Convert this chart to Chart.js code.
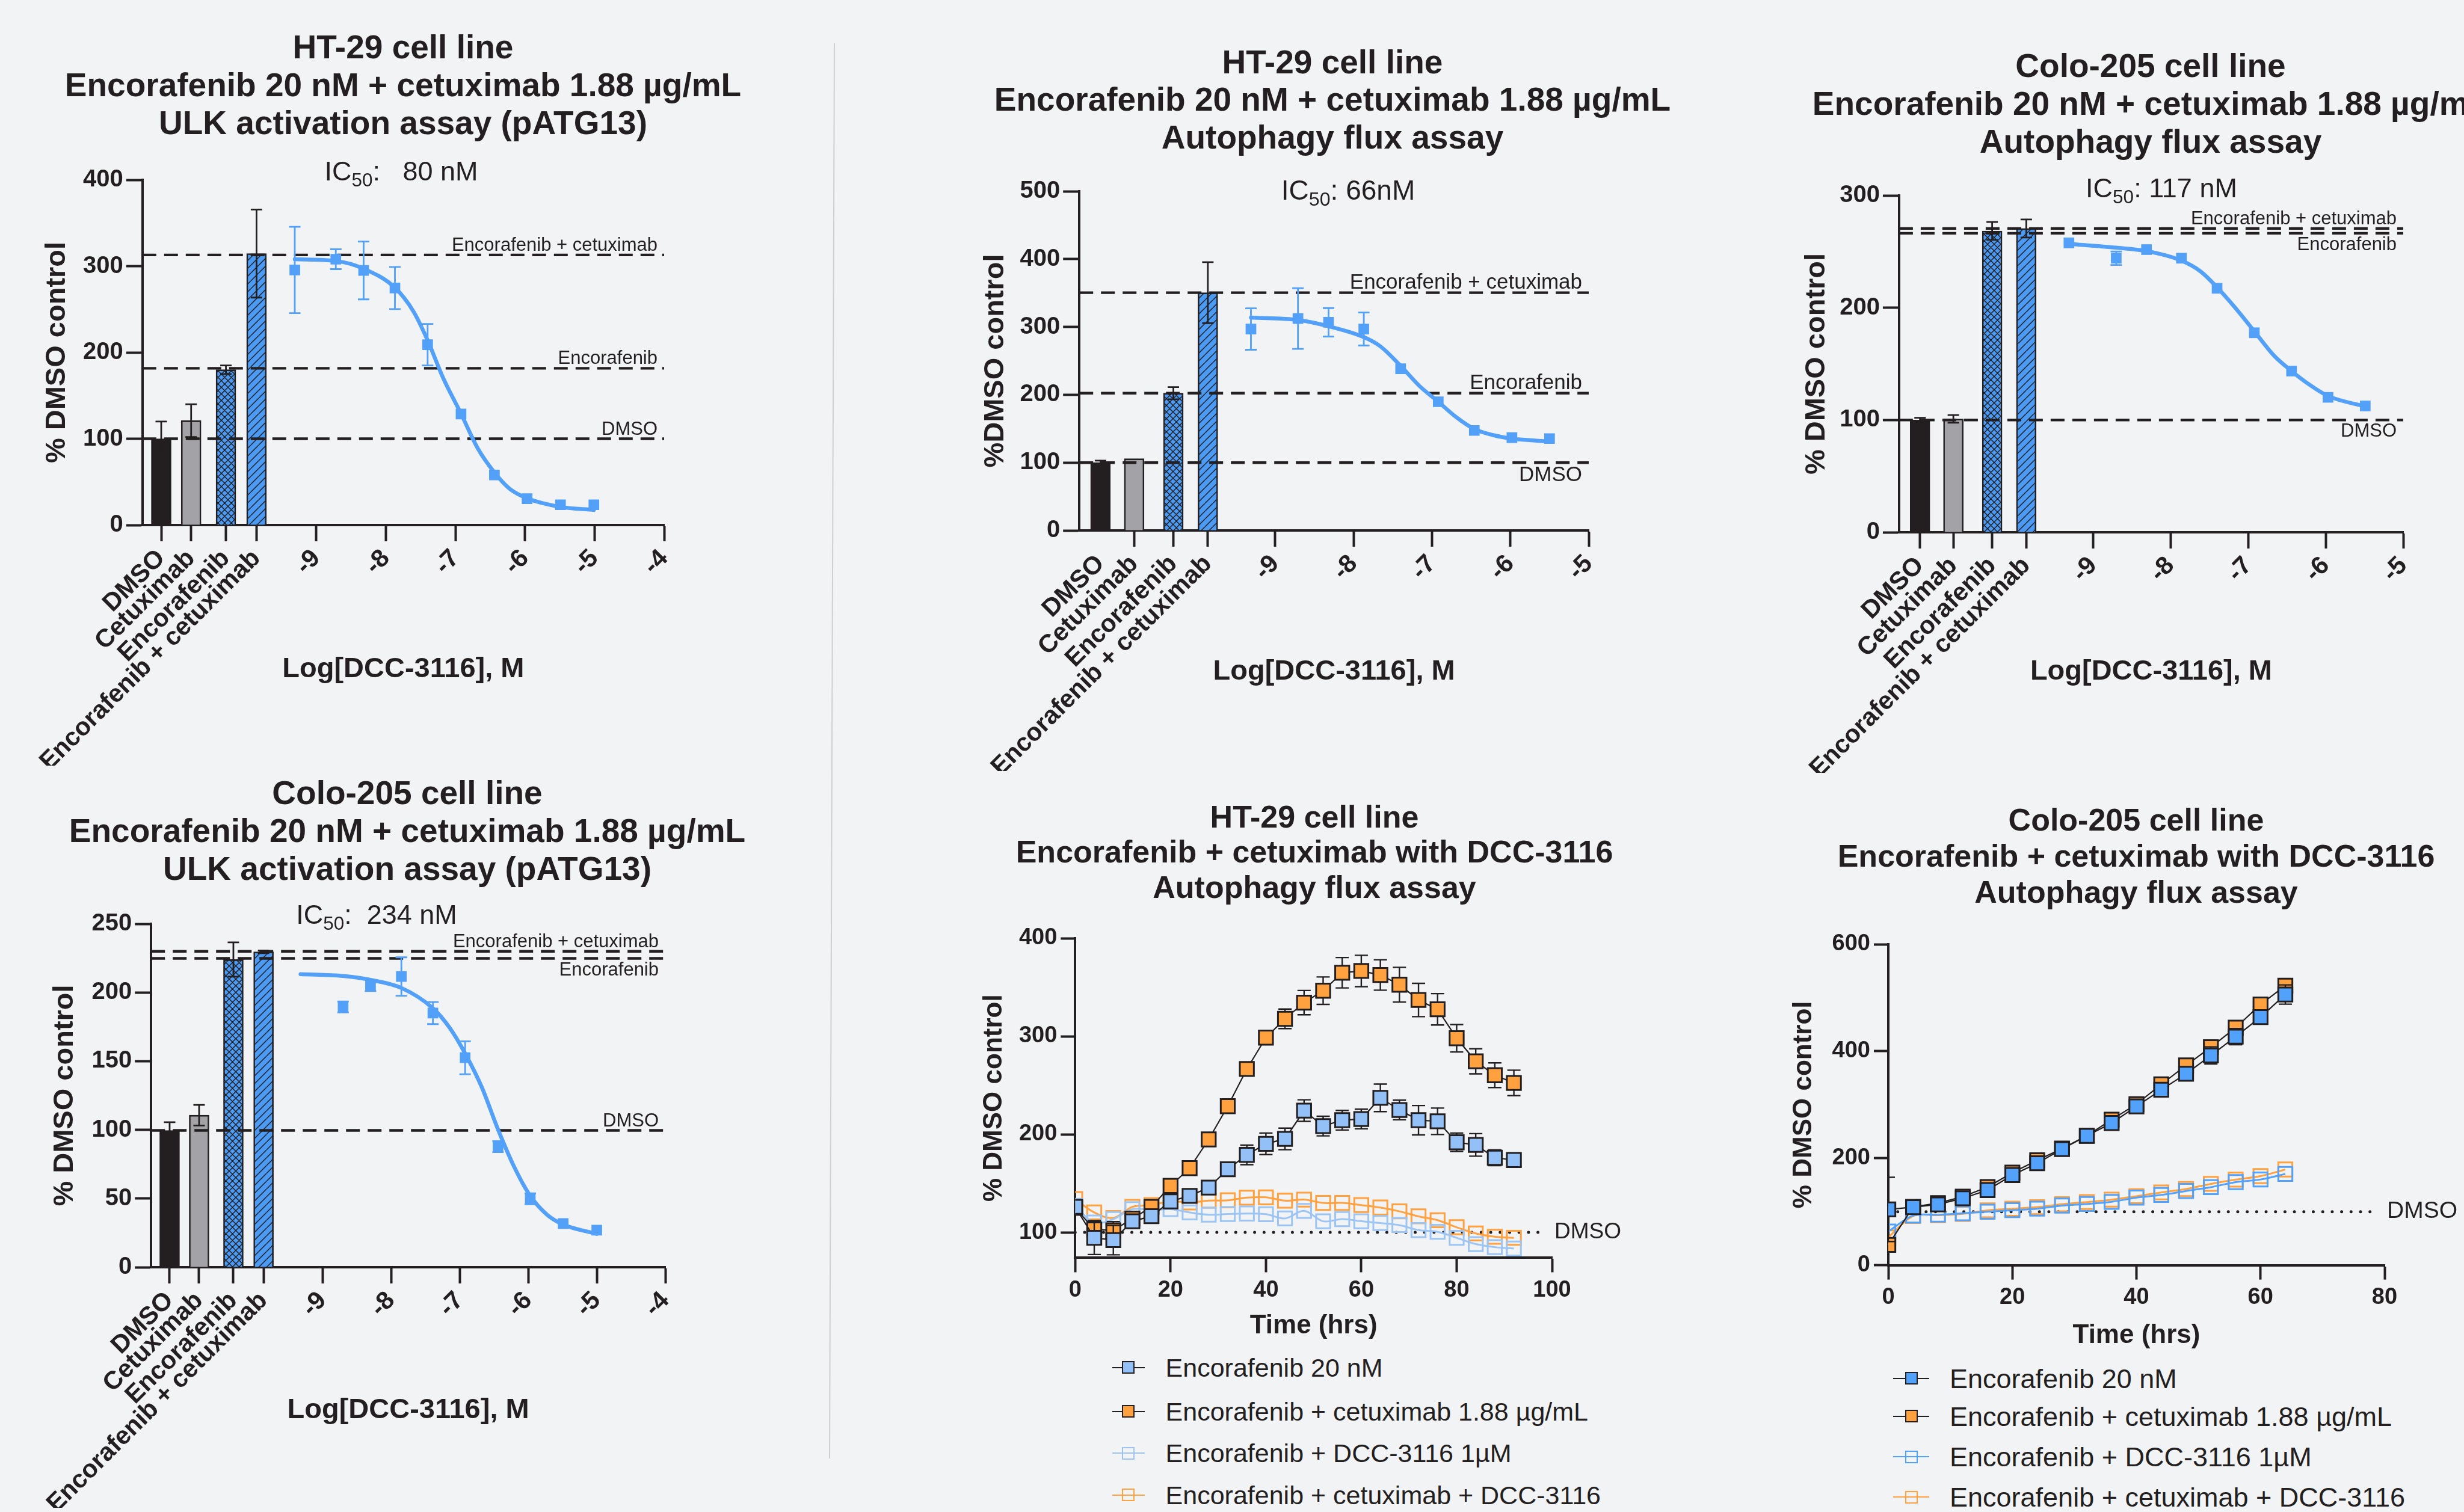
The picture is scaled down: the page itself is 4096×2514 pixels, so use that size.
<!DOCTYPE html>
<html>
<head>
<meta charset="utf-8">
<script src="https://cdn.jsdelivr.net/npm/chart.js"></script>
<style>
  body { margin:0; background:#f2f3f5; width:4096px; height:2514px; overflow:hidden; position:relative;
         font-family:'Liberation Sans', Arial, sans-serif; color:#231f20; }
  canvas { position:absolute; }
  .title { position:absolute; text-align:center; font-weight:bold; white-space:nowrap; width:2000px; }
  .ic { position:absolute; white-space:pre; transform:translate(-50%,-50%); line-height:1; }
  .ic sub { font-size:0.7em; vertical-align:-0.32em; line-height:0; }
  .lg { position:absolute; white-space:nowrap; transform:translateY(-50%); line-height:1; }
  .ln, .sq { position:absolute; box-sizing:border-box; }
</style>
</head>
<body>
<svg width="4096" height="2514" style="position:absolute;left:0;top:0">
  <line x1="1387" y1="72" x2="1379" y2="2425" stroke="#cfd0d3" stroke-width="2"/>
</svg>
<script>
// ---------- dose-response panels: shared categories ----------
const barCats = ['DMSO', 'Cetuximab', 'Encorafenib', 'Encorafenib + cetuximab'];
const barPos = [-11.23, -10.8, -10.3, -9.86];
const refNames = ['Encorafenib + cetuximab', 'Encorafenib', 'DMSO'];

// HT-29, ULK activation (pATG13)
const ht29UlkBars = [100, 121, 180, 314.6];
const ht29UlkBarErr = [20, 19, 5, 51];
const ht29UlkLogC = [-9.31, -8.72, -8.32, -7.87, -7.40, -6.92, -6.44, -5.97, -5.49, -5.01];
const ht29UlkPts = [295.5, 308, 295, 274.7, 209, 128.6, 58, 30.6, 23.5, 23.5];
const ht29UlkErr = [50, 11.5, 33.5, 24.4, 24, 0, 0, 0, 0, 0];
const ht29UlkFitX = [-9.31, -8.72, -8.32, -7.87, -7.6, -7.4, -7.18, -6.92, -6.68, -6.44, -6.22, -5.97, -5.49, -5.01];
const ht29UlkFitY = [308, 306, 297, 275, 247, 214, 171, 129, 89, 61, 42, 31, 21, 17.5];
const ht29UlkRefs = [313, 181.6, 100];
const ht29UlkLogTicks = [-9, -8, -7, -6, -5, -4];
const ht29UlkYTicks = [0, 100, 200, 300, 400];

// HT-29, autophagy flux
const ht29FluxBars = [100, 105.8, 202.4, 350.5];
const ht29FluxBarErr = [3, 0, 9, 45];
const ht29FluxLogC = [-9.31, -8.71, -8.32, -7.87, -7.40, -6.92, -6.46, -5.98, -5.50];
const ht29FluxPts = [296.9, 312.4, 306.8, 296.9, 238.4, 189.7, 147.4, 136.8, 135.4];
const ht29FluxErr = [30.5, 44.7, 21, 24.3, 0, 0, 0, 0, 0];
const ht29FluxFitX = [-9.31, -8.71, -8.32, -7.87, -7.66, -7.40, -7.16, -6.92, -6.69, -6.46, -6.21, -5.98, -5.50];
const ht29FluxFitY = [313.8, 310.3, 301, 285, 271.5, 242.6, 213, 189.7, 167, 149.5, 140.3, 135.4, 131.2];
const ht29FluxRefs = [350.5, 202.4, 100];
const ht29FluxLogTicks = [-9, -8, -7, -6, -5];
const ht29FluxYTicks = [0, 100, 200, 300, 400, 500];

// Colo-205, autophagy flux
const coloFluxBars = [100, 101, 268.4, 270.6];
const coloFluxBarErr = [2, 3.4, 8, 8];
const coloFluxLogC = [-9.31, -8.70, -8.31, -7.86, -7.40, -6.92, -6.44, -5.97, -5.49];
const coloFluxPts = [257.8, 244.1, 251.8, 244.1, 217.3, 177.7, 143.6, 120.2, 112.5];
const coloFluxErr = [0, 6, 0, 0, 0, 0, 0, 0, 0];
const coloFluxFitX = [-9.31, -8.70, -8.31, -7.86, -7.61, -7.40, -7.17, -6.92, -6.67, -6.44, -6.22, -5.97, -5.49];
const coloFluxFitY = [256.9, 253.5, 250.5, 242, 232.2, 218.2, 200.3, 179, 157.6, 143.6, 132, 121.4, 112];
const coloFluxRefs = [270.6, 266.3, 100];
const coloFluxLogTicks = [-9, -8, -7, -6, -5];
const coloFluxYTicks = [0, 100, 200, 300];

// Colo-205, ULK activation (pATG13)
const coloUlkBars = [99.6, 110.7, 224, 229.6];
const coloUlkBarErr = [6, 7.5, 12.5, 1];
const coloUlkLogC = [-8.70, -8.30, -7.85, -7.39, -6.92, -6.44, -5.97, -5.49, -5.00];
const coloUlkPts = [189.5, 205, 211.6, 185, 152.5, 87.8, 49.8, 31.8, 27];
const coloUlkErr = [4, 4, 14, 8, 12, 4, 4, 0, 0];
const coloUlkFitX = [-9.32, -8.70, -8.30, -7.85, -7.39, -7.15, -6.92, -6.68, -6.44, -6.20, -5.97, -5.72, -5.49, -5.00];
const coloUlkFitY = [213.3, 212, 209.2, 203.3, 188.5, 174.6, 155.6, 131.4, 100.3, 72.6, 51.9, 38, 31.1, 24.2];
const coloUlkRefs = [230, 224.8, 99.6];
const coloUlkLogTicks = [-9, -8, -7, -6, -5, -4];
const coloUlkYTicks = [0, 50, 100, 150, 200, 250];

// ---------- time-course panels ----------
const seriesNames = ['Encorafenib 20 nM', 'Encorafenib + cetuximab 1.88 µg/mL',
                     'Encorafenib + DCC-3116 1µM', 'Encorafenib + cetuximab + DCC-3116'];

const ht29Hours = [0, 4, 8, 12, 16, 20, 24, 28, 32, 36, 40, 44, 48, 52, 56, 60, 64, 68, 72, 76, 80, 84, 88, 92];
const ht29Enc = [126, 94.4, 92.1, 111.3, 116.5, 131.6, 137.2, 145.6, 164.3, 179, 190.3, 195.3, 224.2, 208.4, 214.4, 215.6, 237.2, 224.8, 214.4, 213.3, 191.9, 189.2, 176.1, 173.8];
const ht29EncErr = [4, 17, 15, 4, 3, 4, 3, 3, 4, 10, 11, 11, 11, 10, 10, 10, 14, 10, 15, 13.5, 9.4, 11.5, 8, 4];
const ht29EncCet = [125, 103, 102, 114, 126, 147.4, 165.5, 194.8, 228.7, 266.6, 298.6, 317.8, 334.3, 346.5, 364.8, 366.6, 362.5, 352.6, 337, 327.5, 298, 274.5, 260.3, 252.4];
const ht29EncCetErr = [3, 9, 9, 3, 3, 3, 3, 2, 2, 2, 4, 10, 12.4, 14, 15.5, 16, 15.5, 17.7, 17, 16, 14, 12.8, 12.6, 13];
const ht29EncDcc = [127, 110, 113.5, 123.7, 122.6, 123.7, 120.3, 118, 118.7, 119.2, 118.5, 114.2, 121.9, 111.3, 113.5, 111.3, 109.5, 107.4, 102.3, 100.5, 94.4, 88, 84.9, 83.5];
const ht29EncCetDcc = [133.9, 120.3, 114.7, 126, 127.8, 131.6, 130.5, 132.3, 132.7, 135.4, 135.7, 132.3, 133.4, 130, 130, 127.8, 125.3, 121.4, 116.3, 112.4, 105.2, 98.9, 95.5, 94.4];
const ht29TimeTicks = [0, 20, 40, 60, 80, 100];
const ht29PctTicks = [100, 200, 300, 400];

const coloHours = [0, 4, 8, 12, 16, 20, 24, 28, 32, 36, 40, 44, 48, 52, 56, 60, 64];
const coloEnc = [104.3, 108.5, 113.5, 125, 140.4, 168.5, 190.5, 217, 241.8, 265.8, 296.9, 328, 357.8, 392.1, 427.3, 463.8, 506];
const coloEncErr = [60, 2, 2, 2, 2, 2, 2, 2, 2, 2, 3, 3, 3, 16, 15, 3, 18];
const coloEncCet = [38, 109, 116, 128, 146, 173, 196, 218, 242, 272, 301, 338, 373.5, 407.5, 444, 487.4, 522.6];
const coloEncCetErr = [5, 2, 2, 2, 2, 2, 2, 2, 2, 2, 3, 3, 3, 3, 3, 3, 3];
const coloEncDcc = [63, 92.8, 94.4, 97, 99.9, 102.8, 105.6, 111.4, 114.3, 118.4, 126.3, 131.3, 138.7, 145.8, 155.3, 160.2, 170.6];
const coloEncCetDcc = [52, 92, 93.5, 96, 102.5, 105.5, 108.5, 114, 118, 122.5, 129, 136, 142.4, 152, 160, 166.5, 178.9];
const coloTimeTicks = [0, 20, 40, 60, 80];
const coloPctTicks = [0, 200, 400, 600];

// ---------- styles ----------
const INK = '#231f20';
const DOSE_BLUE = '#52a0f8';
const BAR_BLUE = '#4b9af3';
const BAR_GRAY = '#a3a3a7';
const ORANGE = '#ffa13f';
const HT_BLUE = '#93c0f7';
const HT_BLUE_LINE = '#9cc5f4';
const CO_BLUE = '#52a1fa';
const FONT = "'Liberation Sans', Arial, sans-serif";
Chart.defaults.font.family = FONT;
Chart.defaults.color = INK;

function hatchPattern(tile, cross) {
  const c = document.createElement('canvas');
  c.width = tile; c.height = tile;
  const g = c.getContext('2d');
  g.fillStyle = BAR_BLUE; g.fillRect(0, 0, tile, tile);
  g.strokeStyle = INK; g.lineWidth = 1.5;
  g.beginPath();
  for (let k = -1; k <= 1; k++) {
    g.moveTo(k * tile, tile); g.lineTo(k * tile + tile, 0);
    if (cross) { g.moveTo(k * tile, 0); g.lineTo(k * tile + tile, tile); }
  }
  g.stroke();
  return g.createPattern(c, 'repeat');
}
const crossPat = hatchPattern(11, true);
const diagPat = hatchPattern(13, false);

// error bars, drawn with the chart's own scales
function drawErr(chart, i) {
  const ds = chart.data.datasets[i];
  if (!ds.errors) return;
  const meta = chart.getDatasetMeta(i);
  const {ctx, chartArea, scales} = chart;
  ctx.save();
  ctx.beginPath();
  ctx.rect(chartArea.left, chartArea.top, chartArea.right - chartArea.left, chartArea.bottom - chartArea.top);
  ctx.clip();
  ctx.strokeStyle = ds.errColor;
  ctx.lineWidth = ds.errWidth;
  meta.data.forEach((el, k) => {
    const e = ds.errors[k];
    if (!e) return;
    const v = ds.data[k].y;
    const x = el.x;
    const y1 = scales.y.getPixelForValue(v + e);
    const y2 = scales.y.getPixelForValue(v - e);
    const hw = ds.errCap / 2;
    ctx.beginPath();
    ctx.moveTo(x, y1); ctx.lineTo(x, y2);
    ctx.moveTo(x - hw, y1); ctx.lineTo(x + hw, y1);
    ctx.moveTo(x - hw, y2); ctx.lineTo(x + hw, y2);
    ctx.stroke();
  });
  ctx.restore();
}
const errorBarPlugin = {
  id: 'errorBars',
  beforeDatasetDraw(chart, args) { if (chart.data.datasets[args.index].errBehind) drawErr(chart, args.index); },
  afterDatasetDraw(chart, args) { if (!chart.data.datasets[args.index].errBehind) drawErr(chart, args.index); }
};

// labels of the reference lines
const refLabelPlugin = {
  id: 'refLabels',
  afterDatasetsDraw(chart) {
    const {ctx, chartArea, scales} = chart;
    chart.data.datasets.forEach(ds => {
      if (!ds.refLabel) return;
      const y = scales.y.getPixelForValue(ds.data[0].y);
      ctx.save();
      ctx.fillStyle = INK;
      ctx.font = ds.refFont + 'px ' + FONT;
      if (ds.refMode === 'after') {
        ctx.textAlign = 'left'; ctx.textBaseline = 'middle';
        ctx.fillText(ds.refLabel, chartArea.right + 4, y);
      } else if (ds.refMode === 'below') {
        ctx.textAlign = 'right'; ctx.textBaseline = 'top';
        ctx.fillText(ds.refLabel, chartArea.right - 11, y + 4);
      } else {
        ctx.textAlign = 'right'; ctx.textBaseline = 'alphabetic';
        ctx.fillText(ds.refLabel, chartArea.right - 11, y - 7);
      }
      ctx.restore();
    });
  }
};

function makeCanvas(left, top, w, h) {
  const c = document.createElement('canvas');
  c.width = Math.round(w); c.height = Math.round(h);
  c.style.left = Math.round(left) + 'px'; c.style.top = Math.round(top) + 'px';
  c.style.width = c.width + 'px'; c.style.height = c.height + 'px';
  document.body.appendChild(c);
  return c;
}
function addDiv(cls, css, html) {
  const d = document.createElement('div');
  d.className = cls;
  Object.keys(css).forEach(k => { d.style[k] = typeof css[k] === 'number' ? css[k] + 'px' : css[k]; });
  if (html !== undefined) d.innerHTML = html;
  document.body.appendChild(d);
  return d;
}
function addTitle(g, lines) {
  addDiv('title', {left: g.titleCX - 1000, top: g.titleTop, fontSize: g.titleSize, lineHeight: g.titleLH}, lines.join('<br>'));
}
function axisStyle(tickLen) {
  return {
    grid: {display: true, drawOnChartArea: false, drawTicks: true, tickLength: tickLen, tickWidth: 4, tickColor: INK},
    border: {display: true, color: INK, width: 4}
  };
}

// ---------- dose-response chart ----------
const XMIN = -11.5;
function doseChart(g, d) {
  const lhY = g.axisTitleSize * 1.2, lhX = g.axisTitleSize * 1.2;
  const cl = g.yTitleX - lhY / 2 - 40;
  const ct = g.T - 40;
  const padR = 70;
  const cr = g.R + padR;
  const cb = Math.min(2514, g.B + 400);
  const canvas = makeCanvas(cl, ct, cr - cl, cb - ct);
  const wy = g.L - cl, hx = cb - g.B;
  const xTicks = barPos.concat(d.logTicks);
  const xLabels = barCats.concat(d.logTicks.map(String));

  const datasets = [];
  datasets.push({type: 'scatter', data: d.logC.map((x, i) => ({x, y: d.pts[i]})),
    pointStyle: 'rect', pointRadius: 12.5, pointBackgroundColor: DOSE_BLUE, pointBorderWidth: 0,
    errors: d.err, errColor: DOSE_BLUE, errWidth: 2.8, errCap: 19, order: 0});
  datasets.push({type: 'line', data: d.fitX.map((x, i) => ({x, y: d.fitY[i]})),
    borderColor: DOSE_BLUE, borderWidth: 6.5, pointRadius: 0, cubicInterpolationMode: 'monotone',
    borderCapStyle: 'round', order: 1});
  d.refs.forEach((v, i) => datasets.push({type: 'line', data: [{x: XMIN, y: v}, {x: d.xMax, y: v}],
    borderColor: INK, borderWidth: 4.4, borderDash: [23, 13], pointRadius: 0,
    refLabel: refNames[i], refMode: g.refModes[i], refFont: g.refFont, order: 2}));
  datasets.push({type: 'bar', data: barPos.map((x, i) => ({x, y: d.bars[i]})),
    backgroundColor: [INK, BAR_GRAY, crossPat, diagPat], borderColor: INK, borderWidth: 2.6,
    barThickness: 33, errors: d.barErr, errColor: INK, errWidth: 2.8, errCap: 19, order: 3});

  const ax = axisStyle(27);
  new Chart(canvas, {
    type: 'scatter',
    data: {datasets},
    options: {
      responsive: false, maintainAspectRatio: false, animation: false, devicePixelRatio: 1, events: [],
      layout: {padding: {left: 0, top: 40, right: padR, bottom: 0}},
      plugins: {legend: {display: false}, tooltip: {enabled: false}},
      scales: {
        x: {type: 'linear', min: XMIN, max: d.xMax, offset: false,
          afterBuildTicks: s => { s.ticks = xTicks.map(v => ({value: v})); },
          afterFit: s => { s.height = hx; },
          ticks: {autoSkip: false, minRotation: 45, maxRotation: 45, padding: 4, color: INK,
                  font: {size: 42, weight: 'bold'}, callback: (v, i) => xLabels[i]},
          grid: Object.assign({}, ax.grid, {offset: false,
                  tickColor: c => (g.hideFirstTick && c.index === 0) ? 'rgba(0,0,0,0)' : INK}),
          border: ax.border,
          title: {display: true, text: 'Log[DCC-3116], M', color: INK,
                  font: {size: g.axisTitleSize, weight: 'bold'},
                  padding: {top: 0, bottom: cb - g.xTitleY - lhX / 2}}},
        y: {type: 'linear', min: 0, max: d.yMax,
          afterBuildTicks: s => { s.ticks = d.yTicks.map(v => ({value: v})); },
          afterFit: s => { s.width = wy; },
          ticks: {padding: 5, color: INK, font: {size: 40, weight: 'bold'}},
          grid: ax.grid, border: ax.border,
          title: {display: true, text: g.yTitle, color: INK,
                  font: {size: g.axisTitleSize, weight: 'bold'}, padding: {top: 40, bottom: 0}}}
      }
    },
    plugins: [errorBarPlugin, refLabelPlugin]
  });
  addDiv('ic', {left: g.icX, top: g.icY, fontSize: g.icSize}, g.icText);
}

// ---------- time-course chart ----------
function timeChart(g, d, styles) {
  const lh = g.axisTitleSize * 1.2;
  const cl = g.yTitleX - lh / 2 - 20;
  const ct = g.T - 40;
  const cr = Math.min(4096, g.R + 130);
  const cb = g.xTitleY + lh / 2 + 10;
  const canvas = makeCanvas(cl, ct, cr - cl, cb - ct);
  const wy = g.L - cl, hx = cb - g.B;

  const datasets = d.series.map((vals, i) => ({
    type: 'line', label: seriesNames[i],
    data: d.hours.map((t, k) => ({x: t, y: vals[k]})),
    borderColor: styles[i].line, borderWidth: styles[i].lw, tension: styles[i].tension,
    pointStyle: 'rect', pointRadius: 16.5, pointBackgroundColor: styles[i].fill,
    pointBorderColor: styles[i].edge, pointBorderWidth: 3,
    errors: d.errs[i], errColor: styles[i].edge, errWidth: 2.4, errCap: 22, errBehind: true, order: i
  }));
  datasets.push({type: 'line', data: [{x: d.hours[0], y: 100}, {x: g.dmsoEnd, y: 100}],
    borderColor: INK, borderWidth: 5, borderDash: [0, 15.7], borderCapStyle: 'round', pointRadius: 0,
    refLabel: 'DMSO', refMode: 'after', refFont: g.dmsoFont, order: 10});

  const ax = axisStyle(24);
  new Chart(canvas, {
    type: 'scatter',
    data: {datasets},
    options: {
      responsive: false, maintainAspectRatio: false, animation: false, devicePixelRatio: 1, events: [],
      layout: {padding: {left: 0, top: 40, right: cr - g.R, bottom: 0}},
      plugins: {legend: {display: false}, tooltip: {enabled: false}},
      scales: {
        x: {type: 'linear', min: d.xTicks[0], max: d.xTicks[d.xTicks.length - 1], offset: false,
          afterBuildTicks: s => { s.ticks = d.xTicks.map(v => ({value: v})); },
          afterFit: s => { s.height = hx; },
          ticks: {maxRotation: 0, padding: 7, color: INK, font: {size: 38, weight: 'bold'}},
          grid: ax.grid, border: ax.border,
          title: {display: true, text: 'Time (hrs)', color: INK,
                  font: {size: g.axisTitleSize, weight: 'bold'}, padding: {top: 0, bottom: 10}}},
        y: {type: 'linear', min: g.yMin, max: d.yTicks[d.yTicks.length - 1],
          afterBuildTicks: s => { s.ticks = d.yTicks.map(v => ({value: v})); },
          afterFit: s => { s.width = wy; },
          ticks: {padding: 6, color: INK, font: {size: 38, weight: 'bold'}},
          grid: ax.grid, border: ax.border,
          title: {display: true, text: '% DMSO control', color: INK,
                  font: {size: g.axisTitleSize, weight: 'bold'}, padding: {top: 20, bottom: 0}}}
      }
    },
    plugins: [errorBarPlugin, refLabelPlugin]
  });

  seriesNames.forEach((name, i) => {
    const y = g.legY[i], st = styles[i];
    addDiv('ln', {left: g.legX1, top: y - 1, width: g.legX2 - g.legX1, height: 2, background: st.line});
    addDiv('sq', {left: g.legSq - 10.5, top: y - 10.5, width: 21, height: 21, background: st.fill,
                  border: '2.5px solid ' + st.edge});
    addDiv('lg', {left: g.legText, top: y, fontSize: g.legSize}, name);
  });
}

// ---------- build the figure ----------
addTitle({titleCX: 670, titleTop: 47, titleSize: 55, titleLH: 62.9},
  ['HT-29 cell line', 'Encorafenib 20 nM + cetuximab 1.88 µg/mL', 'ULK activation assay (pATG13)']);
doseChart({L: 236.6, T: 299.3, R: 1103.3, B: 873.5, yTitleX: 95, xTitleY: 1114, axisTitleSize: 47,
           yTitle: '% DMSO control', refModes: ['above', 'above', 'above'], refFont: 31,
           icX: 667, icY: 284, icSize: 45, icText: 'IC<sub>50</sub>:&nbsp;&nbsp; 80 nM'},
  {bars: ht29UlkBars, barErr: ht29UlkBarErr, logC: ht29UlkLogC, pts: ht29UlkPts, err: ht29UlkErr,
   fitX: ht29UlkFitX, fitY: ht29UlkFitY, refs: ht29UlkRefs, logTicks: ht29UlkLogTicks,
   yTicks: ht29UlkYTicks, xMax: -4, yMax: 400});

addTitle({titleCX: 2215, titleTop: 71.5, titleSize: 55, titleLH: 62.9},
  ['HT-29 cell line', 'Encorafenib 20 nM + cetuximab 1.88 µg/mL', 'Autophagy flux assay']);
doseChart({L: 1794, T: 318.4, R: 2641, B: 882.3, yTitleX: 1655, xTitleY: 1117, axisTitleSize: 47,
           yTitle: '%DMSO control', refModes: ['above', 'above', 'below'], refFont: 35, hideFirstTick: true,
           icX: 2241, icY: 316, icSize: 46, icText: 'IC<sub>50</sub>: 66nM'},
  {bars: ht29FluxBars, barErr: ht29FluxBarErr, logC: ht29FluxLogC, pts: ht29FluxPts, err: ht29FluxErr,
   fitX: ht29FluxFitX, fitY: ht29FluxFitY, refs: ht29FluxRefs, logTicks: ht29FluxLogTicks,
   yTicks: ht29FluxYTicks, xMax: -5, yMax: 500});

addTitle({titleCX: 3575, titleTop: 78, titleSize: 55, titleLH: 62.8},
  ['Colo-205 cell line', 'Encorafenib 20 nM + cetuximab 1.88 µg/mL', 'Autophagy flux assay']);
doseChart({L: 3156.7, T: 324.8, R: 3995, B: 884.7, yTitleX: 3020, xTitleY: 1117, axisTitleSize: 47,
           yTitle: '% DMSO control', refModes: ['above', 'below', 'below'], refFont: 31,
           icX: 3593, icY: 312, icSize: 45, icText: 'IC<sub>50</sub>: 117 nM'},
  {bars: coloFluxBars, barErr: coloFluxBarErr, logC: coloFluxLogC, pts: coloFluxPts, err: coloFluxErr,
   fitX: coloFluxFitX, fitY: coloFluxFitY, refs: coloFluxRefs, logTicks: coloFluxLogTicks,
   yTicks: coloFluxYTicks, xMax: -5, yMax: 300});

addTitle({titleCX: 677, titleTop: 1287, titleSize: 55, titleLH: 63.1},
  ['Colo-205 cell line', 'Encorafenib 20 nM + cetuximab 1.88 µg/mL', 'ULK activation assay (pATG13)']);
doseChart({L: 250.7, T: 1535.5, R: 1105, B: 2106, yTitleX: 107.7, xTitleY: 2344, axisTitleSize: 47,
           yTitle: '% DMSO control', refModes: ['above', 'below', 'above'], refFont: 31,
           icX: 626, icY: 1520, icSize: 45, icText: 'IC<sub>50</sub>:&nbsp; 234 nM'},
  {bars: coloUlkBars, barErr: coloUlkBarErr, logC: coloUlkLogC, pts: coloUlkPts, err: coloUlkErr,
   fitX: coloUlkFitX, fitY: coloUlkFitY, refs: coloUlkRefs, logTicks: coloUlkLogTicks,
   yTicks: coloUlkYTicks, xMax: -4, yMax: 250});

addTitle({titleCX: 2185, titleTop: 1328.5, titleSize: 52, titleLH: 58.9},
  ['HT-29 cell line', 'Encorafenib + cetuximab with DCC-3116', 'Autophagy flux assay']);
timeChart({L: 1786.9, T: 1559.6, R: 2579.8, B: 2091.4, yTitleX: 1652, xTitleY: 2204.6, axisTitleSize: 44,
           yMin: 74, dmsoEnd: 98.3, dmsoFont: 37,
           legY: [2273.7, 2346.7, 2416, 2485.6], legX1: 1848.6, legX2: 1902.6, legSq: 1875.6, legText: 1937.6, legSize: 43},
  {hours: ht29Hours, series: [ht29Enc, ht29EncCet, ht29EncDcc, ht29EncCetDcc],
   errs: [ht29EncErr, ht29EncCetErr, null, null], xTicks: ht29TimeTicks, yTicks: ht29PctTicks},
  [{fill: HT_BLUE, edge: INK, line: INK, lw: 2.2, tension: 0},
   {fill: ORANGE, edge: INK, line: INK, lw: 2.2, tension: 0},
   {fill: 'rgba(0,0,0,0)', edge: HT_BLUE_LINE, line: HT_BLUE_LINE, lw: 3, tension: 0.35},
   {fill: 'rgba(0,0,0,0)', edge: ORANGE, line: ORANGE, lw: 3, tension: 0.35}]);

addTitle({titleCX: 3551, titleTop: 1333.3, titleSize: 52, titleLH: 60},
  ['Colo-205 cell line', 'Encorafenib + cetuximab with DCC-3116', 'Autophagy flux assay']);
timeChart({L: 3138.6, T: 1569.5, R: 3963.6, B: 2102.9, yTitleX: 2998, xTitleY: 2219.9, axisTitleSize: 44,
           yMin: 0, dmsoEnd: 79, dmsoFont: 39,
           legY: [2291.5, 2354.6, 2422.4, 2489.3], legX1: 3147, legX2: 3207, legSq: 3177, legText: 3241, legSize: 45},
  {hours: coloHours, series: [coloEnc, coloEncCet, coloEncDcc, coloEncCetDcc],
   errs: [coloEncErr, coloEncCetErr, null, null], xTicks: coloTimeTicks, yTicks: coloPctTicks},
  [{fill: CO_BLUE, edge: INK, line: INK, lw: 2.2, tension: 0},
   {fill: ORANGE, edge: INK, line: INK, lw: 2.2, tension: 0},
   {fill: 'rgba(0,0,0,0)', edge: CO_BLUE, line: CO_BLUE, lw: 3, tension: 0.3},
   {fill: 'rgba(0,0,0,0)', edge: ORANGE, line: ORANGE, lw: 3, tension: 0.3}]);
</script>
</body>
</html>
